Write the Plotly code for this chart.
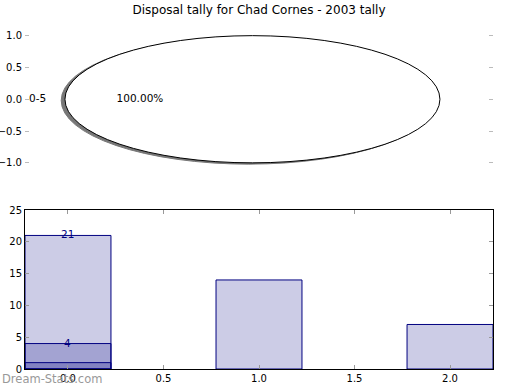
import math
import plotly.graph_objects as go

# ---- data ----
title_text = "Disposal tally for Chad Cornes - 2003 tally"
pie_labels = ["0-5"]
pie_values = [21]

bar_x = [0, 1, 2]
series_a = [21, 14, 7]
series_b = [4]
series_c = [1]
labelled_x = [0, 0]
labelled_vals = [21, 4]

x_ticks = [0.0, 0.5, 1.0, 1.5, 2.0]
y_ticks_bottom = [0, 5, 10, 15, 20, 25]
y_ticks_top = [-1.0, -0.5, 0.0, 0.5, 1.0]

watermark = "Dream-Stats.com"

NAVY = "#000080"
FILL = "rgba(0,0,128,0.2)"
FONT = "DejaVu Sans"

fig = go.Figure()

# ---- bottom: overlaid bars ----
for vals in (series_a, series_b, series_c):
    fig.add_trace(go.Bar(
        x=bar_x[:len(vals)], y=vals, width=0.45,
        marker=dict(color=FILL, line=dict(color=NAVY, width=1)),
        xaxis="x", yaxis="y", showlegend=False, hoverinfo="skip"))

for xv, yv in zip(labelled_x, labelled_vals):
    fig.add_annotation(x=xv, y=yv, xref="x", yref="y", text=str(yv),
                       showarrow=False, yanchor="middle", yshift=1,
                       font=dict(family=FONT, size=10.5, color=NAVY))

# ---- top: pie drawn as squashed ellipse ----
total = sum(pie_values)
start = 0.0
for lab, v in zip(pie_labels, pie_values):
    frac = v / total
    mid = math.radians(start + 180.0 * frac)
    lx, ly = 1.1 * math.cos(mid), 1.1 * math.sin(mid)
    fig.add_trace(go.Scatter(
        x=[lx], y=[ly], mode="text", text=[lab],
        textposition="middle left" if lx < 0 else "middle right",
        textfont=dict(family=FONT, size=10.5, color="black"),
        xaxis="x2", yaxis="y2", showlegend=False, hoverinfo="skip"))
    fig.add_trace(go.Scatter(
        x=[0.6 * math.cos(mid)], y=[0.6 * math.sin(mid)],
        mode="text", text=[f"{frac*100:.2f}%"], textposition="middle center",
        textfont=dict(family=FONT, size=10.5, color="black"),
        xaxis="x2", yaxis="y2", showlegend=False, hoverinfo="skip"))
    start += 360 * frac

# shadow then wedge
fig.add_shape(type="circle", xref="x2", yref="y2",
              x0=-1.02, x1=0.98, y0=-1.02, y1=0.98,
              fillcolor="#777777", line=dict(color="#777777", width=1), layer="below")
fig.add_shape(type="circle", xref="x2", yref="y2",
              x0=-1, x1=1, y0=-1, y1=1,
              fillcolor="white", line=dict(color="black", width=1), layer="below")

fig.update_layout(
    width=520, height=390,
    margin=dict(l=25, r=27, t=20, b=21, autoexpand=False),
    paper_bgcolor="white", plot_bgcolor="white",
    barmode="overlay",
    font=dict(family=FONT, size=10, color="black"),
    title=dict(text=title_text, x=0.5, xref="paper", y=1 - 10 / 390, yanchor="middle",
               font=dict(family=FONT, size=12, color="black")),
    xaxis=dict(domain=[0, 1], range=[-0.225, 2.225], anchor="y", automargin=False,
               tickvals=x_ticks, ticktext=[f"{t:.1f}" for t in x_ticks],
               ticks="inside", ticklen=4, tickcolor="#999999",
               showline=True, linecolor="black", linewidth=1, mirror="allticks",
               showgrid=False, zeroline=False),
    yaxis=dict(domain=[0, 159 / 349], range=[0, 25], anchor="x", automargin=False,
               tickvals=y_ticks_bottom, ticks="inside", ticklen=4, tickcolor="#999999",
               showline=True, linecolor="black", linewidth=1, mirror="allticks",
               showgrid=False, zeroline=False),
    xaxis2=dict(domain=[0, 1], range=[-1.213, 1.283], anchor="y2", automargin=False,
                showticklabels=False, ticks="", showline=False,
                showgrid=False, zeroline=False),
    yaxis2=dict(domain=[(369 - 178.5) / 349, 1], range=[-1.246, 1.246], anchor="x2",
                automargin=False,
                tickvals=y_ticks_top, ticktext=[f"{t:.1f}".replace("-", "\u2212") for t in y_ticks_top],
                ticks="inside", ticklen=4, tickcolor="#bbbbbb",
                showline=True, linecolor="rgba(0,0,0,0)", mirror="allticks",
                showgrid=False, zeroline=False),
)

fig.add_annotation(text=watermark, xref="paper", yref="paper",
                   x=-25 / 468, y=(369 - 379) / 349, xanchor="left", yanchor="middle",
                   showarrow=False, font=dict(family=FONT, size=11.5, color="#999999"))

fig.write_html("out.html", config={"displayModeBar": False},
               post_script="document.body.style.margin='0';document.body.style.overflow='hidden';")
